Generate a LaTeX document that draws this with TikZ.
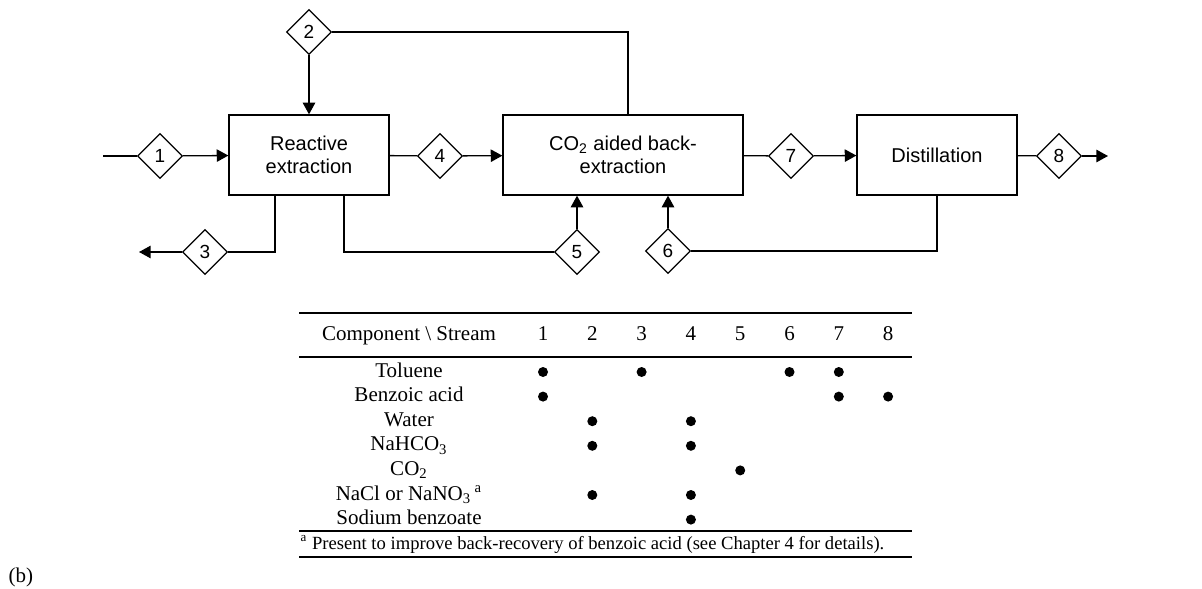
\documentclass[tikz,border=0pt]{standalone}
\usepackage{fontspec}
\setmainfont{Liberation Serif}
\setsansfont{Liberation Sans}
\usepackage{tikz}
\usetikzlibrary{arrows.meta,positioning,shapes.geometric}

\begin{document}
\begin{tikzpicture}[
      x=0.5pt, y=-0.5pt,
      line width=0.65pt,
      unit/.style={
        draw, align=center, font=\sffamily\fontsize{10}{11.5}\selectfont,
        minimum width=80pt, minimum height=40pt, inner sep=2pt},
      strm/.style={draw, diamond, aspect=1, inner sep=0pt, fill=white,
        minimum width=22.5pt, minimum height=22.5pt,
        font=\sffamily\fontsize{9.5}{10}\selectfont},
      arr/.style={-{Triangle[length=5.8pt, width=6.2pt]}},
      cell/.style={font=\fontsize{10.5}{12}\selectfont, inner sep=0pt,
        text height=7.4pt, text depth=2.4pt},
      rule/.style={line width=1.25pt},
      dot/.style={circle, fill, inner sep=0pt, minimum size=5pt},
    ]
    \useasboundingbox (0,0) rectangle (1202,588);

    % process units
    \node[unit] (rx) at (309,155) {Reactive\\extraction};
    \node[unit, minimum width=120pt] (bx) at (623,155) {CO\textsubscript{2} aided back-\\extraction};
    \node[unit] (dist) at (937,155) {Distillation};

    % stream labels
    \node[strm] (s1) at (160,156) {1};
    \node[strm] (s2) at (309,32)  {2};
    \node[strm] (s3) at (205,252) {3};
    \node[strm] (s4) at (440,156) {4};
    \node[strm] (s5) at (577,252) {5};
    \node[strm] (s6) at (668,251) {6};
    \node[strm] (s7) at (791,156) {7};
    \node[strm] (s8) at (1059,156) {8};
    \coordinate (feed) at (103,156);
    \coordinate (waste) at (139,252);
    \coordinate (prod) at (1108,156);

    % main line
    \draw (feed) -- (s1);
    \draw[arr] (s1) -- (rx);
    \draw (rx) -- (s4);
    \draw[arr] (s4) -- (bx);
    \draw (bx) -- (s7);
    \draw[arr] (s7) -- (dist);
    \draw (dist) -- (s8);
    \draw[arr] (s8) -- (prod);

    % side streams and recycles
    \draw[arr] (s2) -- (rx);
    \draw (s2) -- (628,32) -- (628,32|-bx.north);
    \draw ([xshift=-17pt]rx.south) |- (s3);
    \draw[arr] (s3) -- (waste);
    \draw ([xshift=17.5pt]rx.south) |- (s5);
    \draw[arr] (s5) -- (s5|-bx.south);
    \draw (dist.south) |- (s6);
    \draw[arr] (s6) -- (s6|-bx.south);

    % stream table
    \draw[rule] (299,313) -- (912,313);
    \draw[rule] (299,357) -- (912,357);
    \draw[rule] (299,531) -- (912,531);
    \draw[rule] (299,557) -- (912,557);
    \node[cell] (hd) at (409,335) {Component \textbackslash{} Stream};
    \foreach \n [count=\i] in {1,...,8}
      \node[cell] (c\i) at ({543+49.3*(\i-1)},335) {\n};
    \foreach \t [count=\j] in {Toluene, Benzoic acid, Water, NaHCO\textsubscript{3},
        CO\textsubscript{2}, NaCl or NaNO\textsubscript{3}\,\textsuperscript{a}, Sodium benzoate}
      \node[cell] (r\j) at (409,{372+24.6*(\j-1)}) {\t};
    \foreach \r/\c in {1/1,1/3,1/6,1/7,2/1,2/7,2/8,3/2,3/4,4/2,4/4,5/5,6/2,6/4,7/4}
      \node[dot] at (c\c|-r\r) {};
    \node[cell, font=\fontsize{9.3}{10}\selectfont, anchor=west] (fn) at (300,544)
      {\textsuperscript{a} Present to improve back-recovery of benzoic acid (see Chapter 4 for details).};
    \node[cell, anchor=west] (lab) at (8,577) {(b)};
  \end{tikzpicture}
\end{document}
